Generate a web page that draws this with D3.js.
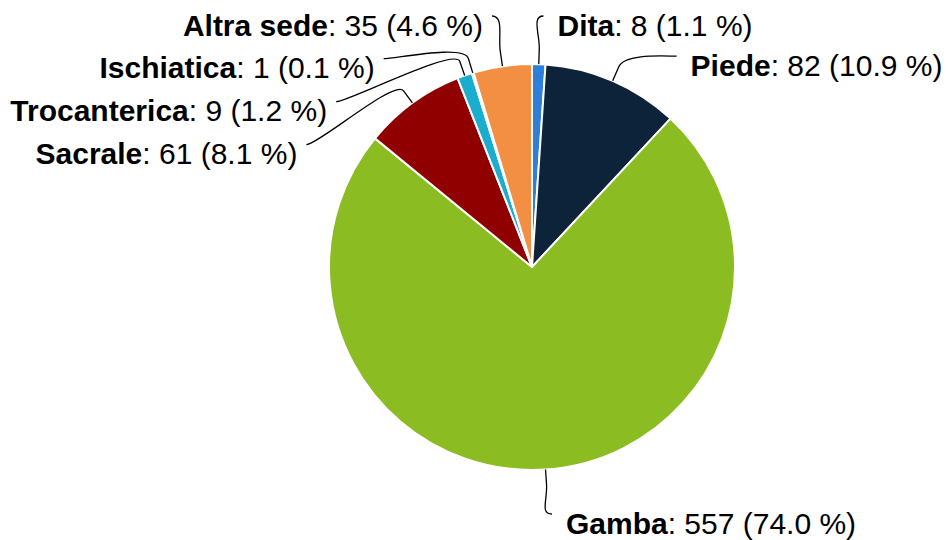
<!DOCTYPE html>
<html>
<head>
<meta charset="utf-8">
<script src="https://cdn.jsdelivr.net/npm/d3@7"></script>
<style>
  html, body { margin: 0; padding: 0; background: #fff; }
  text { font-family: "Liberation Sans", Arial, sans-serif; font-size: 30px; fill: #000; }
</style>
</head>
<body>
<div id="chart"></div>
<script>
// data
const categories = ['Dita', 'Piede', 'Gamba', 'Sacrale', 'Trocanterica', 'Ischiatica', 'Altra sede']
const values = [8, 82, 557, 61, 9, 1, 35]
const colors = ['#2f7ed8', '#0d233a', '#8bbc21', '#910000', '#1aadce', '#492970', '#f28f43']

const width = 949
const height = 540
const cx = 532
const cy = 267
const radius = 203
const labelRadius = 254
const connectorOffset = 15
const labelSpacing = 43

const total = d3.sum(values)
const data = categories.map((name, i) => ({ name, value: values[i], color: colors[i] }))

const svg = d3.select('#chart')
  .append('svg')
  .attr('width', width)
  .attr('height', height)

const pie = d3.pie().sort(null).value(d => d.value)
const arc = d3.arc().innerRadius(0).outerRadius(radius)
const arcs = pie(data)

const g = svg.append('g').attr('transform', `translate(${cx}, ${cy})`)

g.selectAll('path.slice')
  .data(arcs)
  .join('path')
  .attr('class', 'slice')
  .attr('d', arc)
  .attr('fill', d => d.data.color)
  .attr('stroke', '#fff')
  .attr('stroke-width', 2)
  .attr('stroke-linejoin', 'round')

// label positions (pushed down when they overlap, per side)
const labels = arcs.map(d => {
  const mid = (d.startAngle + d.endAngle) / 2
  return {
    d,
    mid,
    right: Math.sin(mid) >= 0,
    y: cy - labelRadius * Math.cos(mid)
  }
})

;[true, false].forEach(side => {
  const list = labels.filter(l => l.right === side).sort((a, b) => a.y - b.y)
  list.forEach((l, i) => {
    if (i > 0 && l.y < list[i - 1].y + labelSpacing) l.y = list[i - 1].y + labelSpacing
  })
})

labels.forEach(l => {
  const dy = Math.max(-labelRadius, Math.min(labelRadius, l.y - cy))
  const dx = Math.sqrt(labelRadius * labelRadius - dy * dy) + 3
  l.x = cx + (l.right ? dx : -dx)
  l.ly = Math.max(16, Math.min(514, l.y))
  // slice edge and break point
  l.sx = cx + radius * Math.sin(l.mid)
  l.sy = cy - radius * Math.cos(l.mid)
  l.bx = cx + (radius + connectorOffset) * Math.sin(l.mid)
  l.by = cy - (radius + connectorOffset) * Math.cos(l.mid)
})

svg.selectAll('path.connector')
  .data(labels)
  .join('path')
  .attr('class', 'connector')
  .attr('fill', 'none')
  .attr('stroke', '#000')
  .attr('stroke-width', 1.3)
  .attr('d', l => {
    const p = d3.path()
    p.moveTo(l.x, l.ly)
    p.bezierCurveTo(l.x + (l.right ? -12 : 12), l.ly, 2 * l.bx - l.sx, 2 * l.by - l.sy, l.bx, l.by)
    p.lineTo(l.sx, l.sy)
    return p.toString()
  })

const txt = svg.selectAll('text.label')
  .data(labels)
  .join('text')
  .attr('class', 'label')
  .attr('x', l => l.x + (l.right ? 14 : -9))
  .attr('y', l => l.ly + 19.5)
  .attr('text-anchor', l => l.right ? 'start' : 'end')

txt.append('tspan')
  .attr('font-weight', 'bold')
  .text(l => l.d.data.name)

txt.append('tspan')
  .text(l => `: ${l.d.data.value} (${(l.d.data.value / total * 100).toFixed(1)} %)`)
</script>
</body>
</html>
